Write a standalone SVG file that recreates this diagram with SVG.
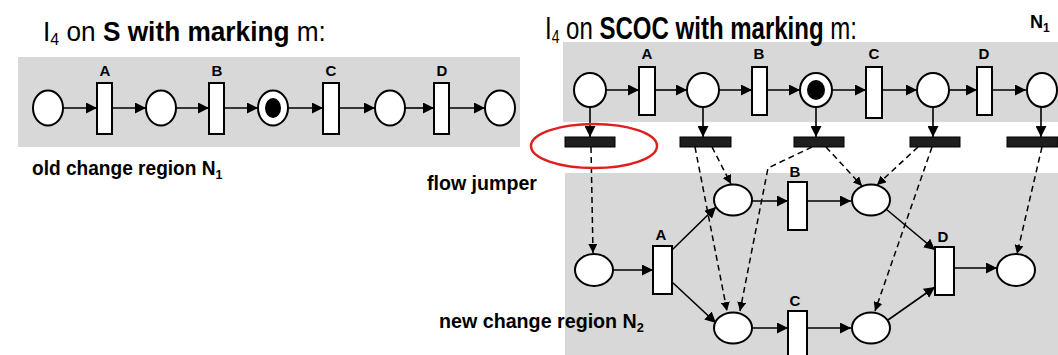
<svg xmlns="http://www.w3.org/2000/svg" width="1058" height="355" viewBox="0 0 1058 355">
<style>
.bg{fill:#d8d8d8;stroke:none}
.pl{fill:#fff;stroke:#000;stroke-width:2}
.tr{fill:#fff;stroke:#000;stroke-width:2}
.tok{fill:#000}
.bar{fill:#1e1e1e;stroke:#000;stroke-width:1}
.arc{stroke:#000;stroke-width:1.6;fill:none;marker-end:url(#ah)}
.dsh{stroke:#000;stroke-width:1.5;stroke-dasharray:6 4;fill:none;marker-end:url(#dh)}
.lbl{font-family:"Liberation Sans",Arial,sans-serif;font-weight:bold;font-size:15px;text-anchor:middle;fill:#000}
.ttl{font-family:"Liberation Sans",Arial,sans-serif;fill:#000}
.b{font-weight:bold}
.cap{font-family:"Liberation Sans",Arial,sans-serif;font-weight:bold;fill:#000}
</style>
<defs>
<marker id="ah" viewBox="0 0 10 10" refX="10" refY="5" markerWidth="11" markerHeight="11" markerUnits="userSpaceOnUse" orient="auto"><path d="M0,0 L10,5 L0,10 z" fill="#000"/></marker>
<marker id="dh" viewBox="0 0 10 10" refX="10" refY="5" markerWidth="9" markerHeight="9" markerUnits="userSpaceOnUse" orient="auto"><path d="M0,0 L10,5 L0,10 z" fill="#000"/></marker>
</defs>

<g id="backgrounds">
<rect class="bg" x="18" y="57" width="502" height="90"/>
<rect class="bg" x="563" y="42" width="495" height="80"/>
<rect class="bg" x="565" y="173" width="493" height="182"/>
</g>

<g id="titles">
<text class="ttl" transform="translate(43,41) scale(0.937,1)" font-size="28">I<tspan font-size="17" dy="4">4</tspan><tspan dy="-4"> on </tspan><tspan class="b">S with marking</tspan> m:</text>
<text class="ttl" transform="translate(545,39) scale(0.775,1)" font-size="31">I<tspan font-size="18" dy="4">4</tspan><tspan dy="-4"> on </tspan><tspan class="b">SCOC with marking</tspan> m:</text>
<text class="cap" x="1030" y="28" font-size="18">N<tspan font-size="12" dy="4">1</tspan></text>
<text class="cap" transform="translate(32,175) scale(0.955,1)" font-size="20">old change region N<tspan font-size="13" dy="4">1</tspan></text>
<text class="cap" x="427" y="190" font-size="19.6">flow jumper</text>
<text class="cap" transform="translate(439,328) scale(0.984,1)" font-size="20">new change region N<tspan font-size="13" dy="4">2</tspan></text>
</g>

<g id="connectors">
<line class="arc" x1="63" y1="108" x2="97" y2="108"/>
<line class="arc" x1="112" y1="108" x2="146" y2="108"/>
<line class="arc" x1="176" y1="108" x2="209" y2="108"/>
<line class="arc" x1="224" y1="108" x2="258" y2="108"/>
<line class="arc" x1="288" y1="108" x2="323" y2="108"/>
<line class="arc" x1="339" y1="108" x2="375" y2="108"/>
<line class="arc" x1="405" y1="108" x2="434" y2="108"/>
<line class="arc" x1="449" y1="108" x2="485" y2="108"/>
<line class="arc" x1="606" y1="90" x2="639" y2="90"/>
<line class="arc" x1="655" y1="90" x2="687" y2="90"/>
<line class="arc" x1="719" y1="90" x2="752" y2="90"/>
<line class="arc" x1="767" y1="90" x2="800" y2="90"/>
<line class="arc" x1="832" y1="90" x2="866" y2="90"/>
<line class="arc" x1="882" y1="90" x2="917" y2="90"/>
<line class="arc" x1="949" y1="90" x2="977" y2="90"/>
<line class="arc" x1="992" y1="90" x2="1026" y2="90"/>
<line class="arc" x1="590" y1="107" x2="590" y2="137"/>
<line class="arc" x1="703" y1="107" x2="703" y2="137"/>
<line class="arc" x1="816" y1="107" x2="816" y2="137"/>
<line class="arc" x1="933" y1="107" x2="933" y2="137"/>
<line class="arc" x1="1041" y1="107" x2="1041" y2="137"/>
<line class="dsh" x1="591" y1="147" x2="593" y2="253"/>
<line class="dsh" x1="695" y1="147" x2="727" y2="311"/>
<line class="dsh" x1="712" y1="147" x2="731" y2="184"/>
<polyline class="dsh" points="812,147 768,168 740,311"/>
<line class="dsh" x1="826" y1="147" x2="862" y2="186"/>
<line class="dsh" x1="918" y1="147" x2="877" y2="185"/>
<line class="dsh" x1="932" y1="147" x2="875" y2="311"/>
<line class="dsh" x1="1042" y1="147" x2="1017" y2="254"/>
<line class="arc" x1="613" y1="270" x2="653" y2="270"/>
<line class="arc" x1="672" y1="250" x2="716" y2="207"/>
<line class="arc" x1="672" y1="282" x2="716" y2="323"/>
<line class="arc" x1="752" y1="201" x2="788" y2="201"/>
<line class="arc" x1="807" y1="201" x2="851" y2="201"/>
<line class="arc" x1="886" y1="209" x2="935" y2="250"/>
<line class="arc" x1="752" y1="328" x2="788" y2="328"/>
<line class="arc" x1="807" y1="328" x2="851" y2="328"/>
<line class="arc" x1="888" y1="320" x2="935" y2="287"/>
<line class="arc" x1="954" y1="268" x2="997" y2="268"/>
</g>

<g id="left-net">
<g id="L-p1"><ellipse class="pl" cx="48" cy="108" rx="15" ry="17.5"/></g>
<g id="L-tA"><rect class="tr" x="97" y="83" width="15" height="51"/><text class="lbl" x="105" y="76" font-size="14">A</text></g>
<g id="L-p2"><ellipse class="pl" cx="161" cy="108" rx="15" ry="17.5"/></g>
<g id="L-tB"><rect class="tr" x="209" y="83" width="15" height="51"/><text class="lbl" x="217" y="76" font-size="14">B</text></g>
<g id="L-p3"><ellipse class="pl" cx="273" cy="108" rx="15" ry="17.5"/><ellipse class="tok" cx="273" cy="108" rx="8" ry="10"/></g>
<g id="L-tC"><rect class="tr" x="323" y="83" width="16" height="51"/><text class="lbl" x="331" y="76" font-size="14">C</text></g>
<g id="L-p4"><ellipse class="pl" cx="390" cy="108" rx="15" ry="17.5"/></g>
<g id="L-tD"><rect class="tr" x="434" y="83" width="15" height="51"/><text class="lbl" x="442" y="76" font-size="14">D</text></g>
<g id="L-p5"><ellipse class="pl" cx="500" cy="108" rx="15" ry="17.5"/></g>
</g>

<g id="scoc-top">
<g id="R-p1"><ellipse class="pl" cx="590" cy="90" rx="16" ry="17"/></g>
<g id="R-tA"><rect class="tr" x="639" y="67" width="16" height="48"/><text class="lbl" x="647" y="59">A</text></g>
<g id="R-p2"><ellipse class="pl" cx="703" cy="90" rx="16" ry="17"/></g>
<g id="R-tB"><rect class="tr" x="752" y="67" width="15" height="48"/><text class="lbl" x="759" y="59">B</text></g>
<g id="R-p3"><ellipse class="pl" cx="816" cy="90" rx="16" ry="17"/><ellipse class="tok" cx="816" cy="90" rx="9" ry="10"/></g>
<g id="R-tC"><rect class="tr" x="866" y="67" width="16" height="51"/><text class="lbl" x="874" y="59">C</text></g>
<g id="R-p4"><ellipse class="pl" cx="933" cy="90" rx="16" ry="17"/></g>
<g id="R-tD"><rect class="tr" x="977" y="67" width="15" height="48"/><text class="lbl" x="984" y="59">D</text></g>
<g id="R-p5"><ellipse class="pl" cx="1042" cy="90" rx="15" ry="17"/></g>
</g>

<g id="flow-jumpers">
<g id="fj1"><rect class="bar" x="565" y="137" width="50" height="10"/></g>
<g id="fj2"><rect class="bar" x="680" y="137" width="51" height="10"/></g>
<g id="fj3"><rect class="bar" x="794" y="137" width="50" height="10"/></g>
<g id="fj4"><rect class="bar" x="910" y="137" width="50" height="10"/></g>
<g id="fj5"><rect class="bar" x="1007" y="137" width="51" height="10"/></g>
<g id="highlight"><ellipse cx="594" cy="146" rx="63" ry="22" fill="none" stroke="#e01e1e" stroke-width="2.5"/></g>
</g>

<g id="scoc-bottom">
<g id="N-p1"><ellipse class="pl" cx="594" cy="270" rx="19" ry="16"/></g>
<g id="N-tA"><rect class="tr" x="653" y="246" width="19" height="48"/><text class="lbl" x="661" y="240" font-size="16">A</text></g>
<g id="N-p2"><ellipse class="pl" cx="733" cy="200" rx="19" ry="15.5"/></g>
<g id="N-tB"><rect class="tr" x="788" y="182" width="19" height="48"/><text class="lbl" x="795" y="177" font-size="16">B</text></g>
<g id="N-p3"><ellipse class="pl" cx="871" cy="200" rx="19" ry="15.5"/></g>
<g id="N-tD"><rect class="tr" x="935" y="247" width="19" height="48"/><text class="lbl" x="943" y="242" font-size="16">D</text></g>
<g id="N-p4"><ellipse class="pl" cx="1016" cy="270" rx="19" ry="16"/></g>
<g id="N-p5"><ellipse class="pl" cx="733" cy="328" rx="19" ry="15.5"/></g>
<g id="N-tC"><rect class="tr" x="788" y="311" width="19" height="50"/><text class="lbl" x="795" y="306" font-size="16">C</text></g>
<g id="N-p6"><ellipse class="pl" cx="871" cy="328" rx="19" ry="15.5"/></g>
</g>
</svg>
